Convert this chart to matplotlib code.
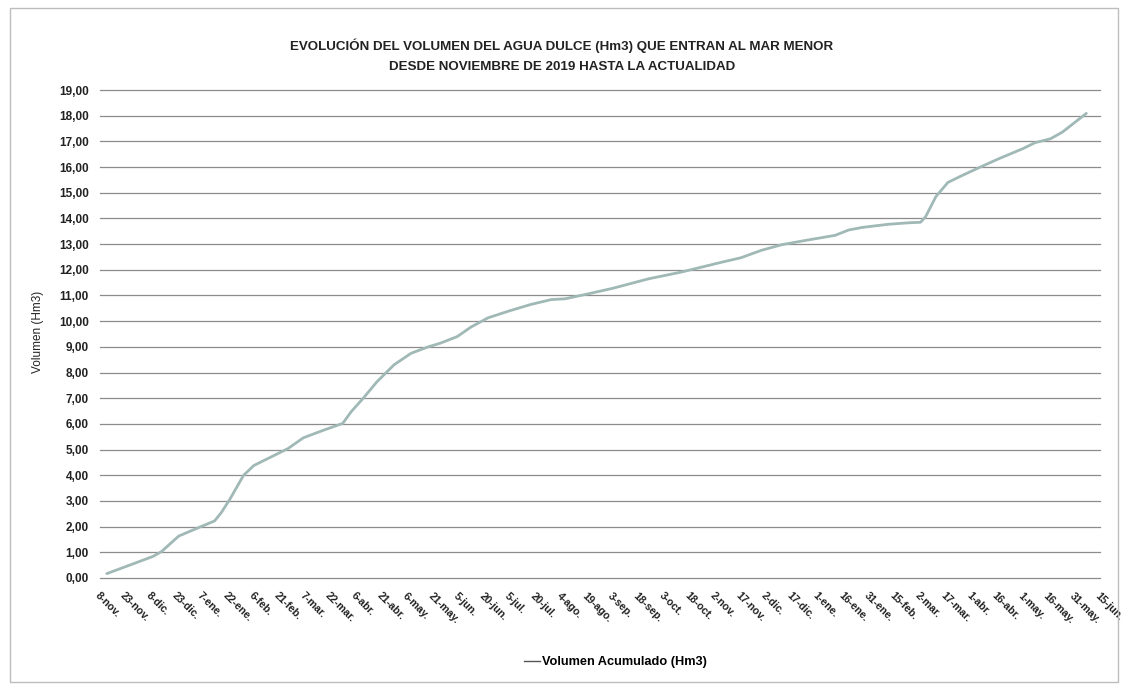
import matplotlib
matplotlib.use("Agg")
import matplotlib.pyplot as plt
from matplotlib.lines import Line2D
from matplotlib.patches import Rectangle
from datetime import date, timedelta

# ---- data ----
fechas = [
    "2019-11-12", "2019-12-09", "2019-12-14", "2019-12-24", "2020-01-06",
    "2020-01-14", "2020-01-18", "2020-01-23", "2020-01-31", "2020-02-06",
    "2020-02-26", "2020-03-06", "2020-03-18", "2020-03-29", "2020-04-03",
    "2020-04-10", "2020-04-18", "2020-04-28", "2020-05-08", "2020-05-18",
    "2020-05-25", "2020-06-04", "2020-06-12", "2020-06-22", "2020-07-04",
    "2020-07-17", "2020-07-29", "2020-08-06", "2020-08-18", "2020-09-03",
    "2020-09-24", "2020-10-13", "2020-10-21", "2020-11-06", "2020-11-17",
    "2020-11-29", "2020-12-11", "2020-12-27", "2021-01-11", "2021-01-19",
    "2021-01-27", "2021-02-11", "2021-02-23", "2021-03-02", "2021-03-05",
    "2021-03-11", "2021-03-18", "2021-03-26", "2021-04-05", "2021-04-17",
    "2021-05-01", "2021-05-08", "2021-05-17", "2021-05-24", "2021-06-07",
]
volumen = [
    0.17, 0.84, 1.03, 1.63, 2.00,
    2.22, 2.55, 3.07, 4.00, 4.38,
    5.04, 5.46, 5.76, 6.02, 6.48,
    7.00, 7.64, 8.30, 8.75, 9.00,
    9.14, 9.40, 9.77, 10.13, 10.39,
    10.65, 10.84, 10.87, 11.04, 11.28,
    11.65, 11.91, 12.04, 12.30, 12.47,
    12.76, 12.98, 13.17, 13.34, 13.55,
    13.65, 13.77, 13.83, 13.85, 14.07,
    14.85, 15.40, 15.66, 15.97, 16.33,
    16.72, 16.95, 17.10, 17.36, 18.09,
]
meses = ["ene", "feb", "mar", "abr", "may", "jun", "jul", "ago", "sep", "oct", "nov", "dic"]
eje_inicio = "2019-11-08"
eje_fin = "2021-06-15"
paso_dias = 15
y_ticks = list(range(0, 20))

titulo = ("EVOLUCIÓN DEL VOLUMEN DEL AGUA DULCE (Hm3) QUE ENTRAN AL MAR MENOR\n"
          "DESDE NOVIEMBRE DE 2019 HASTA LA ACTUALIDAD")
etiqueta_y = "Volumen (Hm3)"
etiqueta_serie = "Volumen Acumulado (Hm3)"

# ---- figure ----
W, H = 1124, 687
fig = plt.figure(figsize=(W / 100, H / 100), dpi=100)
fig.patch.set_facecolor("white")

left, right, top, bottom = 100 / W, 1100 / W, 90 / H, 578 / H
ax = fig.add_axes([left, 1 - bottom, right - left, bottom - top])

x = [date.fromisoformat(f) for f in fechas]
line_color = "#a0b9b6"
ax.plot(x, volumen, color=line_color, lw=2.0, solid_capstyle="round")

d0 = date.fromisoformat(eje_inicio)
d1 = date.fromisoformat(eje_fin)
ticks = []
d = d0
while d <= d1:
    ticks.append(d)
    d += timedelta(days=paso_dias)
ax.set_xlim(d0, d1)
ax.set_xticks(ticks)
ax.set_xticklabels([f"{t.day}-{meses[t.month - 1]}." for t in ticks],
                   rotation=-45, ha="left", va="top", rotation_mode="anchor",
                   fontsize=7.7, fontweight="bold", family="Liberation Sans",
                   color="#222222")
ax.tick_params(axis="x", length=0, pad=9)

ax.set_ylim(0, 19)
ax.set_yticks(y_ticks)
ax.set_yticklabels([f"{v:.2f}".replace(".", ",") for v in y_ticks],
                   fontsize=8.5, fontweight="bold", family="Liberation Sans",
                   color="#222222")
ax.tick_params(axis="y", length=0, pad=8)

ax.grid(axis="y", color="#8c8c8c", lw=0.9)
ax.set_axisbelow(True)
for gl in ax.get_ygridlines():
    gl.set_clip_on(False)
for s in ax.spines.values():
    s.set_visible(False)

fig.text(38 / W, 1 - 332 / H, etiqueta_y, rotation=90, ha="center", va="center",
         fontsize=8.5, family="Liberation Sans", color="#222222")

fig.text(562 / W, 1 - 56 / H, titulo, ha="center", va="center",
         fontsize=9.6, fontweight="bold", linespacing=1.9,
         family="Liberation Sans", color="#222222")

handle = Line2D([0, 1], [0, 0], color="#555555", lw=1.0)
fig.legend([handle], [etiqueta_serie], loc="center", bbox_to_anchor=(615 / W, 1 - 662 / H),
           frameon=False, handlelength=1.3, handletextpad=0.1,
           prop={"family": "Liberation Sans", "weight": "bold", "size": 9.2})

# outer chart border
fig.add_artist(Rectangle((10 / W, 1 - 682 / H), 1108 / W, 674 / H,
                         transform=fig.transFigure, fill=False,
                         edgecolor="#bdbdbd", lw=1.0))

fig.savefig("out.png", dpi=100, facecolor="white")
